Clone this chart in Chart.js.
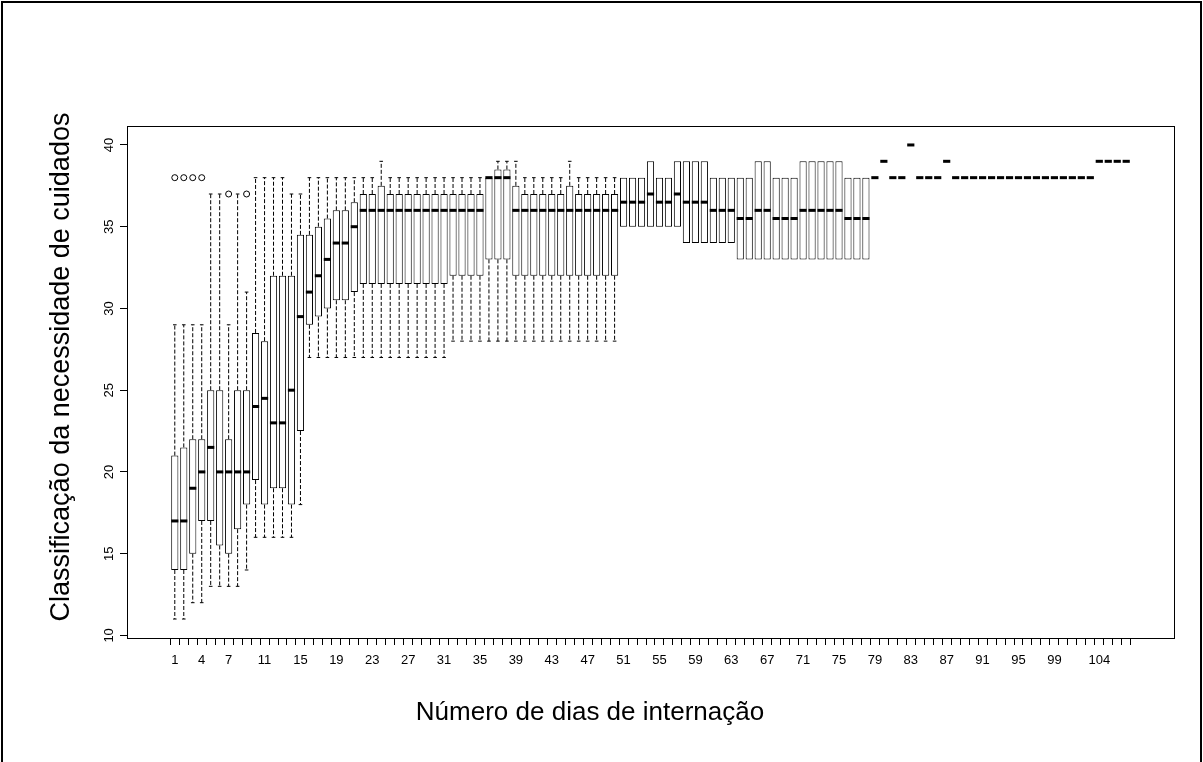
<!DOCTYPE html>
<html>
<head>
<meta charset="utf-8">
<script src="https://cdn.jsdelivr.net/npm/chart.js@4/dist/chart.umd.min.js"></script>
<style>html,body{margin:0;padding:0;background:#fff;}canvas{display:block;}</style>
</head>
<body>
<canvas id="c" width="1203" height="762"></canvas>
<script>
// ---- data ----
const days = ["1","2","3","4","5","6","7","8","9","10","11","12","13","14","15","16","17","18","19","20",
"21","22","23","24","25","26","27","28","29","30","31","32","33","34","35","36","37","38","39","40",
"41","42","43","44","45","46","47","48","49","50","51","52","53","54","55","56","57","58","59","60",
"61","62","63","64","65","66","67","68","69","70","71","72","73","74","75","76","77","78","79","80",
"81","82","83","84","85","86","87","88","89","90","91","92","93","94","95","96","97","98","99","100",
"101","102","103","104","105","106","107"];

const whiskerLow = [11,11,12,12,13,13,13,13,14,16,16,16,16,16,18,27,27,27,27,27,
27,27,27,27,27,27,27,27,27,27,27,28,28,28,28,28,28,28,28,28,
28,28,28,28,28,28,28,28,28,28,35,35,35,35,35,35,35,34,34,34,
34,34,34,33,33,33,33,33,33,33,33,33,33,33,33,33,33,33,38,39,
38,38,40,38,38,38,39,38,38,38,38,38,38,38,38,38,38,38,38,38,
38,38,38,39,39,39,39];

const q1 = [14,14,15,17,17,15.5,15,16.5,18,19.5,18,19,19,18,22.5,29,29.5,30,30.5,30.5,
31,31.5,31.5,31.5,31.5,31.5,31.5,31.5,31.5,31.5,31.5,32,32,32,32,33,33,33,32,32,
32,32,32,32,32,32,32,32,32,32,35,35,35,35,35,35,35,34,34,34,
34,34,34,33,33,33,33,33,33,33,33,33,33,33,33,33,33,33,38,39,
38,38,40,38,38,38,39,38,38,38,38,38,38,38,38,38,38,38,38,38,
38,38,38,39,39,39,39];

const median = [17,17,19,20,21.5,20,20,20,20,24,24.5,23,23,25,29.5,31,32,33,34,34,
35,36,36,36,36,36,36,36,36,36,36,36,36,36,36,38,38,38,36,36,
36,36,36,36,36,36,36,36,36,36,36.5,36.5,36.5,37,36.5,36.5,37,36.5,36.5,36.5,
36,36,36,35.5,35.5,36,36,35.5,35.5,35.5,36,36,36,36,36,35.5,35.5,35.5,38,39,
38,38,40,38,38,38,39,38,38,38,38,38,38,38,38,38,38,38,38,38,
38,38,38,39,39,39,39];

const q3 = [21,21.5,22,22,25,25,22,25,25,28.5,28,32,32,32,34.5,34.5,35,35.5,36,36,
36.5,37,37,37.5,37,37,37,37,37,37,37,37,37,37,37,38,38.5,38.5,37.5,37,
37,37,37,37,37.5,37,37,37,37,37,38,38,38,39,38,38,39,39,39,39,
38,38,38,38,38,39,39,38,38,38,39,39,39,39,39,38,38,38,38,39,
38,38,40,38,38,38,39,38,38,38,38,38,38,38,38,38,38,38,38,38,
38,38,38,39,39,39,39];

const whiskerHigh = [29,29,29,29,37,37,29,37,31,38,38,38,38,37,37,38,38,38,38,38,
38,38,38,39,38,38,38,38,38,38,38,38,38,38,38,38,39,39,39,38,
38,38,38,38,39,38,38,38,38,38,38,38,38,39,38,38,39,39,39,39,
38,38,38,38,38,39,39,38,38,38,39,39,39,39,39,38,38,38,38,39,
38,38,40,38,38,38,39,38,38,38,38,38,38,38,38,38,38,38,38,38,
38,38,38,39,39,39,39];

const outlierDays = ["1","2","3","4","7","9"];
const outlierValues = [38,38,38,38,37,37];

const yTicks = [10,15,20,25,30,35,40];
const shownXLabels = ["1","4","7","11","15","19","23","27","31","35","39","43","47","51","55","59","63","67","71","75","79","83","87","91","95","99","104"];

const xTitle = "Número de dias de internação";
const yTitle = "Classificação da necessidade de cuidados";

// ---- layout constants ----
const W = 1203, H = 762;
const PLOT_LEFT = 127, PLOT_RIGHT = 1174, PLOT_TOP = 126, PLOT_BOTTOM = 638;
const FONT = "'Liberation Sans', Arial, sans-serif";
const X_TITLE_POS = {x: 590, y: 713, size: 26};
const Y_TITLE_POS = {x: 62, y: 367, size: 27};

const n = days.length;
const pos = d => days.indexOf(d) + 1;
const yMin = Math.min(...whiskerLow), yMax = Math.max(...whiskerHigh);
const yPad = 0.04 * (yMax - yMin);

const boxData = days.map((d, i) => ({x: i + 1, y: [q1[i], q3[i]]}));
const medData = days.map((d, i) => ({x: i + 1, y: median[i]}));
const upWh = [], loWh = [], caps = [];
days.forEach((d, i) => {
  if (whiskerHigh[i] > q3[i]) { upWh.push({x: i + 1, y: q3[i]}, {x: i + 1, y: whiskerHigh[i]}, {x: i + 1, y: null}); caps.push({x: i + 1, y: whiskerHigh[i]}); }
  if (whiskerLow[i] < q1[i]) { loWh.push({x: i + 1, y: q1[i]}, {x: i + 1, y: whiskerLow[i]}, {x: i + 1, y: null}); caps.push({x: i + 1, y: whiskerLow[i]}); }
});
const outData = outlierDays.map((d, k) => ({x: pos(d), y: outlierValues[k]}));

const step = ctx => { const s = ctx.chart.scales.x; return (s.getPixelForValue(2) - s.getPixelForValue(1)); };

const framePlugin = {
  id: 'frame',
  afterDraw(chart) {
    const {ctx, chartArea: a} = chart;
    ctx.save();
    ctx.strokeStyle = '#000';
    ctx.lineWidth = 1;
    ctx.strokeRect(Math.round(a.left) + 0.5, Math.round(a.top) + 0.5, Math.round(a.right - a.left), Math.round(a.bottom - a.top));
    ctx.lineWidth = 2;
    ctx.beginPath();
    ctx.moveTo(2, H); ctx.lineTo(2, 2); ctx.lineTo(W - 2, 2); ctx.lineTo(W - 2, H);
    ctx.stroke();
    // axis titles
    ctx.fillStyle = '#000';
    ctx.textAlign = 'center';
    ctx.textBaseline = 'middle';
    ctx.font = X_TITLE_POS.size + 'px ' + FONT;
    ctx.fillText(xTitle, X_TITLE_POS.x, X_TITLE_POS.y);
    ctx.translate(Y_TITLE_POS.x, Y_TITLE_POS.y);
    ctx.rotate(-Math.PI / 2);
    ctx.font = Y_TITLE_POS.size + 'px ' + FONT;
    ctx.fillText(yTitle, 0, 0);
    ctx.restore();
  }
};
const bgPlugin = {
  id: 'bg',
  beforeDraw(chart) { const c = chart.ctx; c.save(); c.fillStyle = '#fff'; c.fillRect(0, 0, W, H); c.restore(); }
};

new Chart(document.getElementById('c'), {
  type: 'bar',
  data: {
    datasets: [
      {type: 'bar', data: boxData, backgroundColor: '#fff', borderColor: '#000', borderWidth: 1, borderSkipped: false,
       barPercentage: 0.8, categoryPercentage: 1, grouped: false, order: 6},
      {type: 'line', data: upWh, borderColor: '#000', borderWidth: 1, borderDash: [4, 2], pointRadius: 0, spanGaps: false, fill: false, order: 5},
      {type: 'line', data: loWh, borderColor: '#000', borderWidth: 1, borderDash: [4, 2], pointRadius: 0, spanGaps: false, fill: false, order: 5},
      {type: 'scatter', data: caps, pointStyle: 'line', radius: ctx => step(ctx) * 0.2, borderColor: '#000', borderWidth: 1, order: 4},
      {type: 'scatter', data: medData, pointStyle: 'line', radius: ctx => step(ctx) * 0.4, borderColor: '#000', borderWidth: 3, order: 1},
      {type: 'scatter', data: outData, pointStyle: 'circle', radius: 3, borderColor: '#000', backgroundColor: '#fff', borderWidth: 1, order: 2}
    ]
  },
  options: {
    responsive: false,
    animation: false,
    events: [],
    layout: {padding: {top: PLOT_TOP, right: W - PLOT_RIGHT, left: 0, bottom: 0}},
    plugins: {legend: {display: false}, tooltip: {enabled: false}},
    scales: {
      x: {
        type: 'linear',
        min: 0.5 - 0.04 * n, max: n + 0.5 + 0.04 * n,
        afterBuildTicks: s => { s.ticks = days.map((d, i) => ({value: i + 1})); },
        afterFit: s => { s.height = H - PLOT_BOTTOM; },
        border: {display: false},
        grid: {drawOnChartArea: false, drawTicks: true, tickLength: 7, tickColor: '#000', lineWidth: 1},
        ticks: {autoSkip: false, maxRotation: 0, minRotation: 0, padding: 8, color: '#000',
                font: {family: FONT, size: 13},
                callback: (v, idx) => shownXLabels.includes(days[idx]) ? days[idx] : ''},
        title: {display: false}
      },
      y: {
        type: 'linear',
        min: yMin - yPad, max: yMax + yPad,
        afterBuildTicks: s => { s.ticks = yTicks.map(v => ({value: v})); },
        afterFit: s => { s.width = PLOT_LEFT; },
        border: {display: false},
        grid: {drawOnChartArea: false, drawTicks: true, tickLength: 7, tickColor: '#000', lineWidth: 1},
        ticks: {autoSkip: false, minRotation: 90, maxRotation: 90, crossAlign: 'center', padding: 3, color: '#000',
                font: {family: FONT, size: 13}},
        title: {display: false}
      }
    }
  },
  plugins: [bgPlugin, framePlugin]
});
</script>
</body>
</html>
